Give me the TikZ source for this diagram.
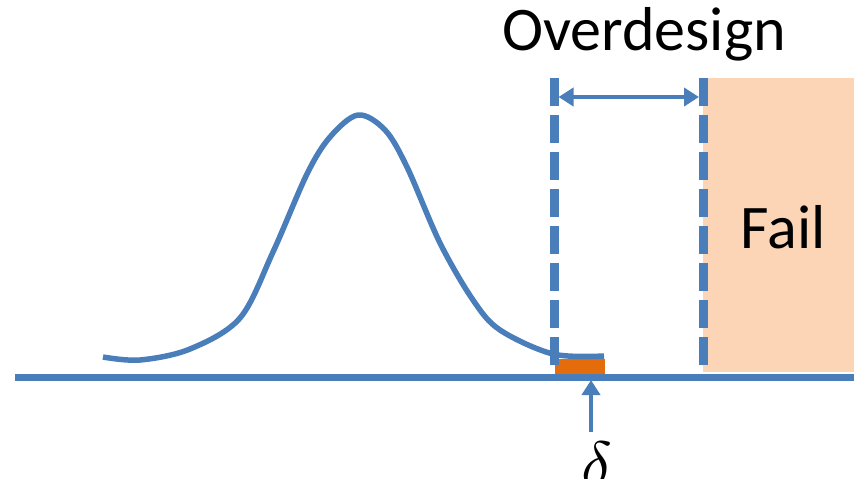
\documentclass[tikz,border=0pt]{standalone}
\usepackage{unicode-math}
\setmainfont{Carlito}
\setmathfont{Latin Modern Math}
\usetikzlibrary{arrows.meta}
\definecolor{pdfblue}{RGB}{74,126,187}
\definecolor{failfill}{RGB}{251,213,181}
\definecolor{tailfill}{RGB}{228,108,10}
\begin{document}
\begin{tikzpicture}[
    x=1pt, y=-1pt,
    every node/.style={inner sep=0pt, anchor=base},
    lbl/.style={font=\fontsize{62}{70}\selectfont},
    axisline/.style={draw=pdfblue, line width=6.5pt},
    pdfcurve/.style={draw=pdfblue, line width=5.5pt},
    limitline/.style={draw=pdfblue, line width=8.5pt, dash pattern=on 28pt off 9pt},
    dimarrow/.style={draw=pdfblue, line width=4pt, {Triangle[length=15pt,width=18pt]}-{Triangle[length=15pt,width=18pt]}},
    ptr/.style={draw=pdfblue, line width=4pt, -{Triangle[length=15pt,width=18pt]}}
]
\useasboundingbox (0,0) rectangle (854,479);

% fail region and tail area
\fill[failfill] (703,78) rectangle (854,372);
\fill[tailfill] (555,359) rectangle (605,375);

% axis
\coordinate (axisL) at (15,377.5);
\coordinate (axisR) at (854,377.5);
\draw[axisline] (axisL) -- (axisR);

% distribution
\draw[pdfcurve] plot[smooth, tension=0.55] coordinates {
  (103,357) (140,360) (190,349) (240,318) (273,252) (307,174) (330,137)
  (358,115) (385,130) (407,167) (440,243) (473,300) (500,330) (553,354) (604,356)};

% design limit and failure limit
\coordinate (limTop) at (554.5,78);
\coordinate (limBot) at (554.5,372);
\coordinate (failTop) at (703.5,78);
\coordinate (failBot) at (703.5,372);
\draw[limitline] (limTop) -- (limBot);
\draw[limitline] (failTop) -- (failBot);

% overdesign margin
\coordinate (dimL) at (558.5,97);
\coordinate (dimR) at (699,97);
\draw[dimarrow] (dimL) -- (dimR);
\node[lbl] (overdesign) at (644,50) {Overdesign};
\node[lbl] (fail) at (783,248) {Fail};

% tail probability
\node[font=\fontsize{64}{70}\selectfont] (delta) at (597,486) {$\delta$};
\coordinate (tailTip) at (591,380);
\draw[ptr] (tailTip |- 0,432) -- (tailTip);
\end{tikzpicture}
\end{document}
